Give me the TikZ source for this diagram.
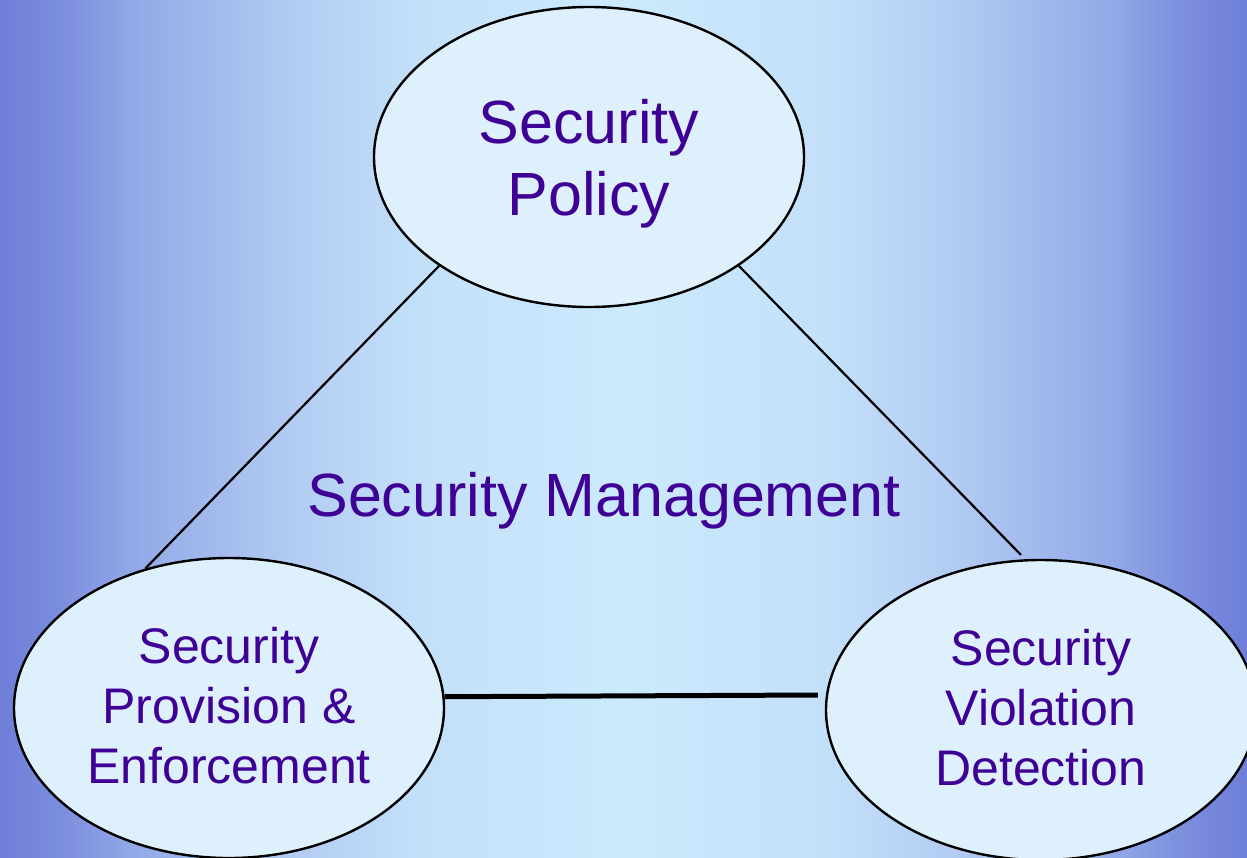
\documentclass[tikz,border=0pt]{standalone}
\usepackage{fontspec}
\setmainfont{Liberation Sans}
\usepackage{tikz}
\usetikzlibrary{shapes.geometric}
\definecolor{edgeblue}{HTML}{6E7ED8}
\definecolor{bubblefill}{HTML}{DFF0FD}
\definecolor{labelpurple}{HTML}{3F0096}
\pgfdeclarehorizontalshading{bgband}{100bp}{%
  color(0bp)=(edgeblue); color(25bp)=(edgeblue);
  color(27.5bp)=(rgb,255:red,124;green,142;blue,221);
  color(30.6bp)=(rgb,255:red,148;green,170;blue,231);
  color(37bp)=(rgb,255:red,179;green,205;blue,243);
  color(41.8bp)=(rgb,255:red,195;green,224;blue,249);
  color(50bp)=(rgb,255:red,204;green,234;blue,253);
  color(58.2bp)=(rgb,255:red,195;green,224;blue,249);
  color(63bp)=(rgb,255:red,179;green,205;blue,243);
  color(69.4bp)=(rgb,255:red,148;green,170;blue,231);
  color(72.5bp)=(rgb,255:red,124;green,142;blue,221);
  color(75bp)=(edgeblue); color(100bp)=(edgeblue)}

\begin{document}
\begin{tikzpicture}[x=0.5pt,y=-0.5pt,
  bubble/.style={ellipse,draw=black,fill=bubblefill,line width=1.2pt,
    minimum width=215pt,minimum height=150pt,inner sep=0pt,
    align=center,text=labelpurple,text depth=0pt},
  bigtext/.style={font=\fontsize{30.5}{36}\selectfont},
  smalltext/.style={font=\fontsize{25}{30}\selectfont,text depth=3pt},
  link/.style={draw=black,line width=1.1pt}]
  \useasboundingbox (0,0) rectangle (1247,857);
  \shade[shading=bgband] (0,0) rectangle (1247,857);

  \node[bubble,bigtext] (policy) at (589,157) {Security\\Policy};
  \node[bubble,smalltext] (provision) at (229,708) {Security\\Provision \&\\Enforcement};
  \node[bubble,smalltext] (violation) at (1041,710) {Security\\Violation\\Detection};
  \node[bigtext,text=labelpurple,text depth=0pt,inner sep=0pt] (mgmt) at (604,494.5) {Security Management};

  \draw[link] (policy.216) -- (provision.121);
  \draw[link,shorten >=3pt] (policy.324) -- (violation.96.5);
  \draw[link,line width=2.5pt,shorten >=4pt] (provision.3) -- (violation.176);
\end{tikzpicture}
\end{document}
